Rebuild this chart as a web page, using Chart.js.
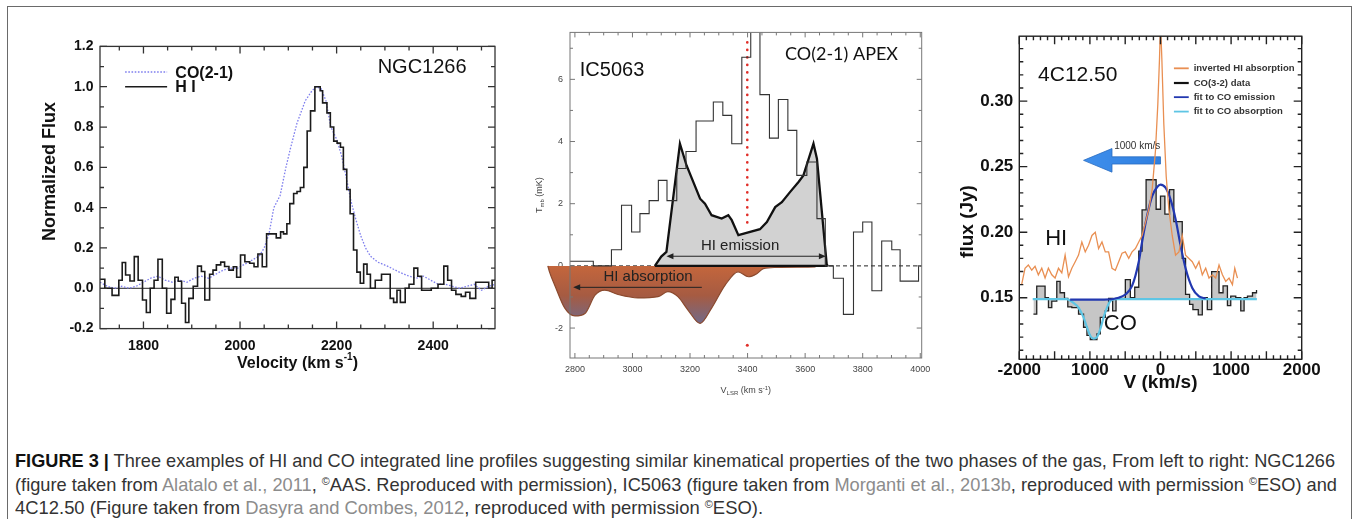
<!DOCTYPE html>
<html><head><meta charset="utf-8">
<script src="https://cdn.jsdelivr.net/npm/chart.js@4.4.1/dist/chart.umd.min.js"></script>
<style>
html,body{margin:0;padding:0;background:#fff;}
body{width:1358px;height:519px;overflow:hidden;position:relative;font-family:"Liberation Sans",Arial,sans-serif;}
#frame{position:absolute;left:7px;top:6px;width:1345px;height:620px;border:1.5px solid #6a6a6a;box-sizing:border-box;}
canvas{position:absolute;}
.cap{position:absolute;left:15px;white-space:nowrap;font-family:"Liberation Sans Narrow","Liberation Sans",Arial,sans-serif;font-size:18.5px;line-height:22px;color:#333;transform-origin:0 0;}
.cap b{color:#111;}
.cap .ref{color:#8c8c8c;}
.cap sup{font-size:11px;vertical-align:0;position:relative;top:-6px;line-height:0;}
</style></head><body>
<div id="frame"></div>
<canvas id="c1" width="505" height="360" style="left:10px;top:30px;width:505px;height:360px"></canvas>
<canvas id="c2" width="420" height="385" style="left:520px;top:20px;width:420px;height:385px"></canvas>
<canvas id="c3" width="390" height="385" style="left:945px;top:20px;width:390px;height:385px"></canvas>

<div class="cap" id="l1" style="top:450px"><b>FIGURE 3 |</b> Three examples of HI and CO integrated line profiles suggesting similar kinematical properties of the two phases of the gas, From left to right: NGC1266</div>
<div class="cap" id="l2" style="top:474px">(figure taken from <span class="ref">Alatalo et al., 2011</span>, <sup>©</sup>AAS. Reproduced with permission), IC5063 (figure taken from <span class="ref">Morganti et al., 2013b</span>, reproduced with permission <sup>©</sup>ESO) and</div>
<div class="cap" id="l3" style="top:497px">4C12.50 (Figure taken from <span class="ref">Dasyra and Combes, 2012</span>, reproduced with permission <sup>©</sup>ESO).</div>

<script>
// ================= Panel 1 : NGC1266 =================
const p1HiVel = [1710,1720,1735,1749,1756,1763,1772,1781,1789,1798,1806,1814,1822,1830,1839,1848,1857,1865,1872,1879,1887,1894,1903,1912,1920,1927,1937,1944,1951,1960,1968,1977,1986,1993,2001,2010,2020,2029,2037,2046,2055,2065,2075,2084,2090,2097,2103,2111,2118,2125,2132,2139,2146,2155,2166,2171,2180,2187,2194,2201,2208,2214,2221,2228,2235,2242,2249,2256,2263,2270,2280,2293,2304,2311,2318,2325,2332,2342,2350,2360,2368,2376,2386,2396,2410,2422,2430,2438,2447,2458,2467,2476,2488,2500,2515,2522,2528];
const p1HiFlux = [0.045,0.0,-0.035,0.04,0.128,0.066,0.036,0.157,0.04,-0.058,-0.12,0.0,0.04,0.144,0.0,-0.124,-0.055,0.055,0.035,-0.074,-0.17,-0.05,0.01,0.11,0.083,-0.058,0.07,0.09,0.116,0.13,0.108,0.09,0.107,0.055,0.165,0.132,0.124,0.107,0.17,0.107,0.27,0.27,0.25,0.28,0.27,0.32,0.42,0.47,0.48,0.5,0.6,0.78,0.88,1.0,0.98,0.92,0.87,0.8,0.73,0.72,0.7,0.59,0.49,0.37,0.19,0.08,0.025,0.12,0.07,0.0,0.04,0.07,0.07,-0.05,-0.07,-0.01,-0.07,0.0,0.02,0.1,0.06,-0.01,-0.01,0.0,0.02,0.11,0.04,-0.01,-0.03,-0.04,-0.02,-0.05,0.03,0.03,0.0,0.04,0.04];
const p1CoVel = [1710,1725,1740,1755,1770,1785,1800,1815,1830,1845,1860,1875,1890,1905,1920,1935,1950,1965,1980,1995,2010,2025,2040,2050,2060,2070,2083,2095,2104,2118,2135,2149,2158,2168,2178,2188,2200,2210,2220,2230,2240,2250,2260,2270,2285,2305,2330,2350,2365,2380,2395,2410,2425,2440,2455,2470,2485,2500,2515,2528];
const p1CoFlux = [0.03,0.01,0.0,0.01,0.0,0.01,0.03,0.05,0.06,0.04,0.03,0.04,0.03,0.05,0.06,0.05,0.07,0.09,0.1,0.1,0.12,0.14,0.16,0.2,0.27,0.4,0.46,0.6,0.69,0.82,0.93,0.98,1.0,0.99,0.93,0.8,0.74,0.66,0.55,0.43,0.34,0.26,0.2,0.16,0.13,0.11,0.08,0.06,0.05,0.06,0.04,0.02,0.02,0.01,0.0,0.01,0.02,-0.01,0.01,0.02];
const p1XTicks = [1800,2000,2200,2400];
const p1YTicks = [-0.2,0.0,0.2,0.4,0.6,0.8,1.0,1.2];

// ================= Panel 2 : IC5063 =================
const p2CoVel = [2783,2864,2927,2962,2997,3026,3058,3090,3120,3154,3186,3221,3252,3281,3314,3345,3380,3411,3443,3476,3507,3540,3571,3606,3641,3670,3698,3733,3768,3800,3832,3866,3901,3930,3965,3994,4005];
const p2CoTmb = [0.15,0.0,0.52,1.95,1.09,1.68,2.1,2.75,2.1,3.13,3.68,4.66,4.66,5.27,4.84,3.93,6.71,7.8,5.51,4.11,5.35,4.36,2.91,3.34,1.52,0.0,-0.4,-1.56,1.09,1.41,-0.8,0.8,0.52,-0.49,-0.49,0.0,0.0];
const p2HiEmVel = [3078,3100,3118,3165,3188,3235,3252,3275,3310,3333,3345,3368,3443,3467,3496,3519,3548,3577,3594,3629,3641,3675,3678];
const p2HiEmT = [0,0.3,0.45,3.93,3.23,2.16,2.0,1.63,1.52,1.63,1.47,0.99,1.18,1.41,1.89,2.05,2.38,2.7,2.91,3.93,3.45,0.05,0];
const p2HiAbsVel = [2706,2712,2730,2765,2800,2835,2870,2904,2950,3019,3089,3123,3158,3193,3235,3275,3322,3367,3403,3432,3455,3501,3571,3634,3640];
const p2HiAbsT = [0,-0.2,-0.62,-1.36,-1.61,-1.53,-0.94,-0.78,-0.92,-1.03,-0.99,-0.83,-0.99,-1.42,-1.85,-1.36,-0.62,-0.19,-0.35,-0.25,-0.09,-0.05,-0.04,-0.03,0];
const p2XMin = 2783, p2XMax = 4005;
const p2XTicks = [2800,3000,3200,3400,3600,3800,4000];
const p2YTicks = [-2,0,2,4,6];

// ================= Panel 3 : 4C12.50 =================
const p3CoVel = [-1800,-1753,-1635,-1587,-1540,-1469,-1422,-1360,-1313,-1256,-1161,-1090,-1042,-995,-900,-853,-782,-735,-678,-630,-583,-498,-427,-365,-308,-261,-204,-128,-62,0,62,128,189,251,308,355,412,459,535,592,663,725,782,829,886,948,995,1066,1137,1184,1232,1303,1360];
const p3CoFlux = [0.1375,0.1588,0.150,0.1425,0.1475,0.1625,0.1538,0.1495,0.143,0.1425,0.1375,0.1275,0.1213,0.118,0.1225,0.135,0.140,0.1495,0.140,0.1495,0.1495,0.1638,0.150,0.158,0.1855,0.217,0.240,0.240,0.2175,0.2275,0.2138,0.2325,0.208,0.208,0.180,0.1525,0.145,0.141,0.137,0.150,0.141,0.170,0.170,0.1538,0.159,0.144,0.1513,0.150,0.140,0.150,0.1513,0.1538,0.156];
const p3HiVel = [-1967,-1919,-1872,-1824,-1777,-1730,-1682,-1635,-1588,-1540,-1493,-1445,-1398,-1351,-1303,-1256,-1208,-1161,-1114,-1066,-1019,-971,-924,-877,-829,-782,-735,-687,-640,-592,-545,-498,-450,-403,-355,-308,-261,-213,-166,-118,-71,-38,-14,0,19,47,81,118,166,213,261,308,355,403,450,498,545,592,640,687,735,782,829,877,924,971,1019,1052,1090];
const p3HiFlux = [0.160,0.1725,0.175,0.171,0.174,0.1675,0.1725,0.165,0.1725,0.1675,0.165,0.1725,0.169,0.1825,0.166,0.1725,0.1775,0.1825,0.1925,0.185,0.19,0.1975,0.2,0.1875,0.1925,0.185,0.185,0.1725,0.171,0.1775,0.184,0.185,0.18,0.185,0.1875,0.1925,0.1975,0.2075,0.2175,0.2325,0.2625,0.2975,0.3325,0.36,0.3325,0.2825,0.2425,0.2175,0.1975,0.1825,0.185,0.1975,0.1825,0.18,0.1775,0.1725,0.1775,0.1675,0.1725,0.165,0.1675,0.165,0.175,0.1675,0.1625,0.165,0.16,0.1725,0.165];
const p3FitEmVel = [-1280,-800,-592,-498,-403,-308,-261,-190,-118,-47,0,71,142,213,284,355,450,545,640];
const p3FitEmFlux = [0.1485,0.1485,0.15,0.1525,0.159,0.1775,0.1925,0.2125,0.2275,0.2345,0.2363,0.234,0.225,0.21,0.19,0.1725,0.1575,0.151,0.1495];
const p3FitAbsVel = [-1810,-1327,-1232,-1161,-1090,-1042,-995,-948,-900,-853,-806,-758,-711,-640,1365];
const p3FitAbsFlux = [0.149,0.149,0.146,0.1425,0.135,0.1275,0.121,0.1188,0.12,0.126,0.135,0.1425,0.1475,0.149,0.149];
const p3XTicks = [-2000,-1000,0,1000,2000];
const p3XTickLabels = ['-2000','1000','0','1000','2000'];
const p3YTicks = [0.15,0.20,0.25,0.30];
const p3LegendLabels = ['inverted HI absorption','CO(3-2) data','fit to CO emission','fit to CO absorption'];

// ================= helpers =================
const pts = (xs, ys) => xs.map((x, i) => ({x, y: ys[i]}));
Chart.defaults.font.family = '"Liberation Sans", Arial, Helvetica, sans-serif';
Chart.defaults.animation = false;
Chart.defaults.plugins.legend.display = false;
Chart.defaults.plugins.tooltip.enabled = false;

function fixedScale(kind, size, extra) {
  const base = {
    type: 'linear',
    grid: {display: false, drawTicks: false},
    border: {display: false},
  };
  if (kind === 'x') { base.position = 'bottom'; base.afterFit = s => { s.height = size; }; }
  else { base.position = 'left'; base.afterFit = s => { s.width = size; }; }
  return Object.assign(base, extra);
}
function frameTicks(o) {
  return {id: 'frameTicks', afterDatasetsDraw(chart) {
    const {ctx, chartArea: a, scales: {x, y}} = chart;
    ctx.save(); ctx.strokeStyle = o.color; ctx.lineWidth = o.width;
    ctx.beginPath();
    const mk = (min, max, step, major, fn) => {
      for (let k = Math.ceil(min / step - 1e-9); k * step <= max + 1e-9; k++) {
        const v = k * step; const r = v / major;
        fn(v, Math.abs(r - Math.round(r)) < 1e-6 ? o.maj : o.min);
      }
    };
    mk(x.min, x.max, o.xStep, o.xMajor, (v, l) => { const p = x.getPixelForValue(v);
      ctx.moveTo(p, a.bottom); ctx.lineTo(p, a.bottom - l); ctx.moveTo(p, a.top); ctx.lineTo(p, a.top + l); });
    mk(y.min, y.max, o.yStep, o.yMajor, (v, l) => { const p = y.getPixelForValue(v);
      ctx.moveTo(a.left, p); ctx.lineTo(a.left + l, p); ctx.moveTo(a.right, p); ctx.lineTo(a.right - l, p); });
    ctx.stroke();
    ctx.strokeRect(a.left, a.top, a.right - a.left, a.bottom - a.top);
    ctx.restore();
  }};
}
function drawRich(ctx, parts, x, y, align, rot) {
  ctx.save(); ctx.translate(x, y); if (rot) ctx.rotate(rot);
  let total = 0;
  parts.forEach(p => { ctx.font = p.font; p.w = ctx.measureText(p.t).width; total += p.w; });
  let cx = align === 'center' ? -total / 2 : (align === 'right' ? -total : 0);
  ctx.textBaseline = 'middle'; ctx.textAlign = 'left';
  parts.forEach(p => { ctx.font = p.font; ctx.fillStyle = p.color || '#000'; ctx.fillText(p.t, cx, p.dy || 0); cx += p.w; });
  ctx.restore();
}
function txt(ctx, s, x, y, font, color, align) {
  ctx.save(); ctx.font = font; ctx.fillStyle = color; ctx.textAlign = align || 'left'; ctx.textBaseline = 'middle';
  ctx.fillText(s, x, y); ctx.restore();
}
function arrowHead(ctx, x, y, dir, len, half) {
  ctx.beginPath(); ctx.moveTo(x, y); ctx.lineTo(x - dir * len, y - half); ctx.lineTo(x - dir * len, y + half); ctx.closePath(); ctx.fill();
}
function absGradient(ch) {
  const ys = ch.scales.y;
  const g = ch.ctx.createLinearGradient(0, ys.getPixelForValue(0), 0, ys.getPixelForValue(-1.9));
  g.addColorStop(0, '#c4663c'); g.addColorStop(0.5, '#a65b42'); g.addColorStop(1, '#6f6a8c');
  return g;
}

// ================= Chart 1 =================
new Chart(document.getElementById('c1'), {
  type: 'line',
  data: {datasets: [
    {data: pts(p1HiVel, p1HiFlux), stepped: 'before', borderColor: '#1b1b1b', borderWidth: 1.6, pointRadius: 0, fill: false, order: 1},
    {data: pts(p1CoVel, p1CoFlux), borderColor: '#7f7fee', borderWidth: 1.3, borderDash: [1.6, 1.6], pointRadius: 0, fill: false, order: 2},
    {data: [{x: 1710, y: 0}, {x: 2528, y: 0}], borderColor: '#222', borderWidth: 1, pointRadius: 0, fill: false, order: 3},
  ]},
  options: {
    responsive: false,
    layout: {padding: {left: 0, top: 16.4, right: 20, bottom: 0}},
    scales: {
      x: fixedScale('x', 61.4, {min: 1710, max: 2528,
        afterBuildTicks: s => { s.ticks = p1XTicks.map(v => ({value: v})); },
        ticks: {font: {size: 14, weight: 'bold'}, color: '#111', padding: 9, maxRotation: 0, callback: v => String(v)}}),
      y: fixedScale('y', 90, {min: -0.2, max: 1.2,
        afterBuildTicks: s => { s.ticks = p1YTicks.map(v => ({value: v})); },
        ticks: {font: {size: 14, weight: 'bold'}, color: '#111', padding: 6.5, callback: v => Number(v).toFixed(1)}}),
    }
  },
  plugins: [frameTicks({color: '#333', width: 1.3, maj: 7, min: 4, xStep: 50, xMajor: 200, yStep: 0.1, yMajor: 0.2}), {
    id: 'p1text', afterDraw(chart) {
      const {ctx, chartArea: a, scales: {x, y}} = chart;
      ctx.save();
      ctx.lineWidth = 1.3; ctx.strokeStyle = '#7f7fee'; ctx.setLineDash([1.6, 1.6]);
      ctx.beginPath(); ctx.moveTo(x.getPixelForValue(1762), y.getPixelForValue(1.073)); ctx.lineTo(x.getPixelForValue(1849), y.getPixelForValue(1.073)); ctx.stroke();
      ctx.setLineDash([]); ctx.strokeStyle = '#1b1b1b'; ctx.lineWidth = 1.5;
      ctx.beginPath(); ctx.moveTo(x.getPixelForValue(1762), y.getPixelForValue(1.0)); ctx.lineTo(x.getPixelForValue(1849), y.getPixelForValue(1.0)); ctx.stroke();
      ctx.restore();
      txt(ctx, 'CO(2-1)', x.getPixelForValue(1866), y.getPixelForValue(1.066), 'bold 16px "Liberation Sans", Arial', '#111');
      txt(ctx, 'H I', x.getPixelForValue(1866), y.getPixelForValue(0.997), 'bold 16px "Liberation Sans", Arial', '#111');
      txt(ctx, 'NGC1266', x.getPixelForValue(2285), y.getPixelForValue(1.095), '20px "Liberation Sans", Arial', '#111');
      const f = 'bold 16px "Liberation Sans", Arial', fs = 'bold 10px "Liberation Sans", Arial';
      drawRich(ctx, [{t: 'Velocity (km s', font: f, color: '#111'}, {t: '-1', font: fs, dy: -6, color: '#111'}, {t: ')', font: f, color: '#111'}],
        (a.left + a.right) / 2, a.bottom + 34.5, 'center');
      drawRich(ctx, [{t: 'Normalized Flux', font: 'bold 18px "Liberation Sans", Arial', color: '#111'}], a.left - 50, a.top + 125, 'center', -Math.PI / 2);
    }
  }]
});

// ================= Chart 2 =================
new Chart(document.getElementById('c2'), {
  type: 'line',
  data: {datasets: [
    {data: [{x: 2783, y: 0}, {x: 4005, y: 0}], borderColor: '#222', borderWidth: 1, borderDash: [4, 3], pointRadius: 0, fill: false, order: 9},
    {data: pts(p2HiAbsVel, p2HiAbsT), borderColor: '#8b4a2e', borderWidth: 1.2, pointRadius: 0, cubicInterpolationMode: 'monotone', capBezierPoints: false, clip: false, order: 8,
      fill: 'origin',
      backgroundColor: (c) => c.chart.chartArea ? absGradient(c.chart) : '#b8603a'},
    {data: [{x: 3399, y: 7.19}, {x: 3399, y: 1.2}], borderColor: '#e0302a', borderWidth: 2.6, borderDash: [0.1, 7.4], borderCapStyle: 'round', pointRadius: 0, fill: false, order: 7},
    {data: pts(p2HiEmVel, p2HiEmT), borderColor: '#111', borderWidth: 2.3, pointRadius: 0, fill: 'origin', backgroundColor: '#d2d2d2', order: 6},
    {data: [{x: 3078, y: 0}, {x: 3678, y: 0}], borderColor: '#111', borderWidth: 2.3, pointRadius: 0, fill: false, order: 5},
    {data: pts(p2CoVel, p2CoTmb), stepped: 'before', borderColor: '#333', borderWidth: 1.1, pointRadius: 0, fill: false, order: 4},
    {data: [{x: 3399, y: -2.55}], showLine: false, pointRadius: 1.5, pointBackgroundColor: '#e0302a', pointBorderWidth: 0, order: 3},
  ]},
  options: {
    responsive: false,
    layout: {padding: {left: 0, top: 11.7, right: 18.3, bottom: 0}},
    scales: {
      x: fixedScale('x', 47, {
        bounds: 'data',
        afterDataLimits: s => { s.min = p2XMin; s.max = p2XMax; },
        afterBuildTicks: s => { s.ticks = p2XTicks.map(v => ({value: v})); s.min = p2XMin; s.max = p2XMax; },
        ticks: {font: {size: 9}, color: '#444', padding: 6, maxRotation: 0, callback: v => String(v)}}),
      y: fixedScale('y', 50, {min: -2.963, max: 7.51,
        afterBuildTicks: s => { s.ticks = p2YTicks.map(v => ({value: v})); },
        ticks: {font: {size: 9}, color: '#444', padding: 7, callback: v => String(v)}}),
    }
  },
  plugins: [{
    id: 'p2absLeft', beforeDatasetsDraw(chart) {
      const {ctx, chartArea: a} = chart;
      const line = chart.getDatasetMeta(1).dataset;
      if (!line) return;
      ctx.save();
      ctx.beginPath(); ctx.rect(0, a.top, a.left, a.bottom - a.top); ctx.clip();
      ctx.beginPath(); line.path(ctx); ctx.closePath();
      ctx.fillStyle = absGradient(chart); ctx.fill();
      ctx.restore();
    }
  }, frameTicks({color: '#777', width: 1, maj: 5, min: 3, xStep: 50, xMajor: 200, yStep: 1, yMajor: 2}), {
    id: 'p2text', afterDraw(chart) {
      const {ctx, chartArea: a, scales: {x, y}} = chart;
      txt(ctx, 'IC5063', x.getPixelForValue(2817), y.getPixelForValue(6.28), '20px "Liberation Sans", Arial', '#111');
      txt(ctx, 'CO(2-1) APEX', x.getPixelForValue(3530), y.getPixelForValue(6.82), '18px Lato, "Liberation Sans", Arial', '#111');
      txt(ctx, 'HI emission', x.getPixelForValue(3374), y.getPixelForValue(0.63), '15px "Liberation Sans", Arial', '#222', 'center');
      txt(ctx, 'HI absorption', x.getPixelForValue(3054), y.getPixelForValue(-0.35), '15px "Liberation Sans", Arial', '#222', 'center');
      ctx.save(); ctx.strokeStyle = '#222'; ctx.fillStyle = '#222'; ctx.lineWidth = 1;
      const ye = y.getPixelForValue(0.31), x1 = x.getPixelForValue(3118), x2 = x.getPixelForValue(3672);
      ctx.beginPath(); ctx.moveTo(x1 + 4, ye); ctx.lineTo(x2 - 4, ye); ctx.stroke();
      arrowHead(ctx, x1, ye, -1, 7, 3); arrowHead(ctx, x2, ye, 1, 7, 3);
      const ya = y.getPixelForValue(-0.69), xa1 = x.getPixelForValue(3241), xa2 = x.getPixelForValue(2794);
      ctx.beginPath(); ctx.moveTo(xa1, ya); ctx.lineTo(xa2 + 4, ya); ctx.stroke();
      arrowHead(ctx, xa2, ya, -1, 7, 3);
      ctx.restore();
      const f = '9px "Liberation Sans", Arial', fs = '6px "Liberation Sans", Arial';
      drawRich(ctx, [{t: 'V', font: f, color: '#444'}, {t: 'LSR', font: fs, dy: 2, color: '#444'}, {t: ' (km s', font: f, color: '#444'}, {t: '-1', font: fs, dy: -3, color: '#444'}, {t: ')', font: f, color: '#444'}],
        (a.left + a.right) / 2, a.bottom + 33, 'center');
      drawRich(ctx, [{t: 'T', font: f, color: '#444'}, {t: 'mb', font: fs, dy: 2, color: '#444'}, {t: ' (mK)', font: f, color: '#444'}],
        a.left - 30, (a.top + a.bottom) / 2, 'center', -Math.PI / 2);
    }
  }]
});

// ================= Chart 3 =================
const p3Colors = ['#e98f52', '#111111', '#2238b0', '#5ec5e4'];
new Chart(document.getElementById('c3'), {
  type: 'line',
  data: {datasets: [
    {data: pts(p3CoVel, p3CoFlux), stepped: 'before', borderColor: '#222', borderWidth: 1.3, pointRadius: 0, fill: {value: 0.149}, backgroundColor: '#c6c6c6', order: 6},
    {data: pts(p3FitAbsVel, p3FitAbsFlux), borderColor: p3Colors[3], borderWidth: 2.2, pointRadius: 0, fill: false, cubicInterpolationMode: 'monotone', order: 5},
    {data: pts(p3FitEmVel, p3FitEmFlux), borderColor: p3Colors[2], borderWidth: 2.2, pointRadius: 0, fill: false, cubicInterpolationMode: 'monotone', order: 4},
    {data: pts(p3HiVel, p3HiFlux), borderColor: p3Colors[0], borderWidth: 1.3, pointRadius: 0, fill: false, order: 3},
  ]},
  options: {
    responsive: false,
    layout: {padding: {left: 0, top: 10.7, right: 33.3, bottom: 0}},
    scales: {
      x: fixedScale('x', 45.7, {min: -2000, max: 2000,
        afterBuildTicks: s => { s.ticks = p3XTicks.map(v => ({value: v})); },
        ticks: {font: {size: 17, weight: 'bold'}, color: '#111', padding: 1, maxRotation: 0, callback: (v, i) => p3XTickLabels[i]}}),
      y: fixedScale('y', 74.3, {min: 0.10305, max: 0.3495,
        afterBuildTicks: s => { s.ticks = p3YTicks.map(v => ({value: v})); },
        ticks: {font: {size: 17, weight: 'bold'}, color: '#111', padding: 6, callback: v => Number(v).toFixed(2)}}),
    }
  },
  plugins: [frameTicks({color: '#222', width: 1.4, maj: 8, min: 4, xStep: 100, xMajor: 500, yStep: 0.01, yMajor: 0.05}), {
    id: 'p3arrow', beforeDatasetsDraw(chart) {
      const {ctx, scales: {x, y}} = chart;
      const av = [0, -687, -687, -1090, -687, -687, 0];
      const ay = [0.2575, 0.2575, 0.2638, 0.2548, 0.2458, 0.252, 0.252];
      ctx.save();
      const g = ctx.createLinearGradient(x.getPixelForValue(-1090), 0, x.getPixelForValue(0), 0);
      g.addColorStop(0, '#3f8fec'); g.addColorStop(1, '#2f7fe0');
      ctx.fillStyle = g; ctx.strokeStyle = '#2a6cc0'; ctx.lineWidth = 0.8;
      ctx.beginPath();
      av.forEach((v, i) => { const px = x.getPixelForValue(v), py = y.getPixelForValue(ay[i]); i ? ctx.lineTo(px, py) : ctx.moveTo(px, py); });
      ctx.closePath(); ctx.fill(); ctx.stroke(); ctx.restore();
    },
    afterDraw(chart) {
      const {ctx, chartArea: a, scales: {x, y}} = chart;
      txt(ctx, '1000 km/s', x.getPixelForValue(-330), y.getPixelForValue(0.2655), '10px "Liberation Sans", Arial', '#333', 'center');
      const rows = [0.325, 0.3138, 0.303, 0.292];
      ctx.save();
      rows.forEach((r, i) => {
        ctx.strokeStyle = p3Colors[i]; ctx.lineWidth = i === 1 ? 2.2 : 1.8;
        ctx.beginPath(); ctx.moveTo(x.getPixelForValue(190), y.getPixelForValue(r)); ctx.lineTo(x.getPixelForValue(400), y.getPixelForValue(r)); ctx.stroke();
        txt(ctx, p3LegendLabels[i], x.getPixelForValue(470), y.getPixelForValue(r), 'bold 9.5px "Liberation Sans", Arial', '#333');
      });
      ctx.restore();
      txt(ctx, '4C12.50', x.getPixelForValue(-1734), y.getPixelForValue(0.32), '21px "Liberation Sans", Arial', '#111');
      txt(ctx, 'HI', x.getPixelForValue(-1478), y.getPixelForValue(0.1947), '22px "Liberation Sans", Arial', '#111', 'center');
      txt(ctx, 'CO', x.getPixelForValue(-569), y.getPixelForValue(0.130), '22px "Liberation Sans", Arial', '#111', 'center');
      drawRich(ctx, [{t: 'V (km/s)', font: 'bold 19px "Liberation Sans", Arial', color: '#111'}], (a.left + a.right) / 2, a.bottom + 23.2, 'center');
      drawRich(ctx, [{t: 'flux (Jy)', font: 'bold 19px "Liberation Sans", Arial', color: '#111'}], a.left - 51.3, a.top + 185.3, 'center', -Math.PI / 2);
    }
  }]
});

// ================= caption fitting =================
function fitCaps() {
  [['l1', 1320], ['l2', 1322], ['l3', 748]].forEach(([id, w]) => {
    const el = document.getElementById(id);
    el.style.transform = 'none';
    const cw = el.getBoundingClientRect().width;
    if (cw > 0) el.style.transform = 'scaleX(' + (w / cw) + ')';
  });
}
fitCaps();
if (document.fonts && document.fonts.ready) document.fonts.ready.then(fitCaps);
</script>
</body></html>
